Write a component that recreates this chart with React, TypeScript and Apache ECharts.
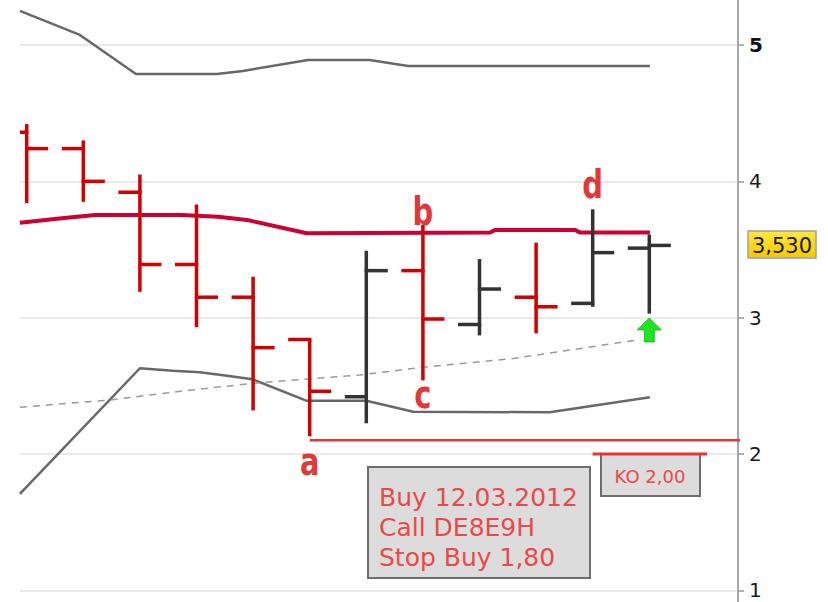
import React, { useEffect, useRef } from "react";
import * as echarts from "echarts";

// ---- OHLC bars (weekly) ----
const barIdx = [0, 1, 2, 3, 4, 5, 6, 7, 8, 9, 10, 11];
const opens = [4.36, 4.24, 3.92, 3.39, 3.15, 2.84, 2.42, 3.345, 2.95, 3.15, 3.105, 3.51];
const closes = [4.24, 4.0, 3.39, 3.15, 2.78, 2.46, 3.345, 2.99, 3.21, 3.08, 3.477, 3.53];
const lows = [3.84, 3.85, 3.19, 2.93, 2.32, 2.13, 2.225, 2.54, 2.87, 2.885, 3.08, 3.03];
const highs = [4.42, 4.3, 4.05, 3.83, 3.3, 2.84, 3.49, 3.68, 3.43, 3.55, 3.795, 3.61];

// ---- indicator lines ----
const upperX = [-0.12, 0.94, 1.93, 3.36, 3.82, 4.97, 6.06, 6.74, 11.01];
const upperY = [5.25, 5.074, 4.788, 4.788, 4.81, 4.89, 4.89, 4.846, 4.846];

const maX = [-0.12, 0.62, 1.21, 2.74, 3.38, 3.89, 4.95, 8.19, 8.27, 9.69, 9.78, 11.01];
const maY = [3.697, 3.729, 3.753, 3.753, 3.741, 3.717, 3.619, 3.624, 3.643, 3.643, 3.624, 3.624];

const lowerX = [-0.12, 2.0, 2.58, 3.06, 3.54, 3.99, 4.95, 6.0, 6.83, 9.24, 11.01];
const lowerY = [1.707, 2.629, 2.611, 2.6, 2.574, 2.548, 2.39, 2.39, 2.31, 2.306, 2.416];

const trendX = [-0.12, 1.47, 2.65, 4.0, 5.89, 7.0, 8.59, 10.78];
const trendY = [2.343, 2.396, 2.457, 2.519, 2.58, 2.636, 2.7, 2.836];

const stopLineX = [5, 12.7];
const stopLineY = [2.1, 2.1];
const koLineX = [10.0, 12.02];
const koLineY = [2.0, 2.0];

// ---- annotations ----
const markLetters = ["a", "b", "c", "d"];
const markX = [5, 7, 7, 10];
const markY = [1.945, 3.78, 2.437, 3.977];
const signalX = [11];
const signalY = [2.91];

const yTicks = [0, 1, 2, 3, 4, 5, 6];
const yLabelled = [1, 2, 3, 4, 5];
const lastPriceLabel = "3,530";
const koLabel = "KO 2,00";
const buyText = ["Buy 12.03.2012", "Call DE8E9H", "Stop Buy 1,80"];

const RED = "#d20000";
const DARK = "#333333";
const FONT = "DejaVu Sans";

function lineSeries(xs: number[], ys: number[], color: string, width: number, type: any, z: number) {
  return {
    type: "line",
    data: xs.map((x, i) => [x, ys[i]]),
    showSymbol: false,
    symbol: "none",
    lineStyle: { color, width, type },
    clip: true,
    z,
    silent: true,
  };
}

export default function App() {
  const ref = useRef<HTMLDivElement>(null);

  useEffect(() => {
    const chart = echarts.init(ref.current!, null, { renderer: "svg" });
    const option: any = {
      animation: false,
      textStyle: { fontFamily: FONT },
      grid: {
        left: 20,
        right: 90,
        top: -91.33,
        bottom: -124.67,
        containLabel: false,
        outerBoundsMode: "none",
      },
      xAxis: {
        type: "value",
        min: -0.1184,
        max: 12.567,
        show: false,
        splitLine: { show: false },
      },
      yAxis: {
        type: "value",
        position: "right",
        min: yTicks[0],
        max: yTicks[yTicks.length - 1],
        interval: 1,
        splitLine: { show: true, lineStyle: { color: "#e2e2e2", width: 1.5 } },
        axisLine: { show: true, onZero: false, lineStyle: { color: "#a8a8a8", width: 2 } },
        axisTick: { show: true, length: 6, lineStyle: { color: "#999", width: 1.5 } },
        axisLabel: {
          margin: 11,
          color: "#1a1a1a",
          fontSize: 20,
          fontFamily: FONT,
          showMinLabel: false,
          showMaxLabel: false,
          formatter: (v: number) =>
            yLabelled.indexOf(v) < 0 ? "" : v === 5 ? "{b|5}" : String(v),
          rich: { b: { fontWeight: "bold", fontSize: 20, color: "#111", fontFamily: FONT } },
        },
      },
      graphic: [
        {
          type: "rect",
          z: 1,
          shape: { x: 368, y: 467, width: 222, height: 111 },
          style: { fill: "#dcdcdc", stroke: "#6e6e6e", lineWidth: 2 },
        },
        {
          type: "text",
          z: 1,
          x: 379,
          y: 482,
          style: {
            text: buyText.join("\n"),
            fill: "#e84a4a",
            font: `25px '${FONT}'`,
            lineHeight: 30,
            align: "left",
            verticalAlign: "top",
          },
        },
        {
          type: "rect",
          z: 1,
          shape: { x: 601, y: 454, width: 99, height: 42 },
          style: { fill: "#dcdcdc", stroke: "#6e6e6e", lineWidth: 2 },
        },
        {
          type: "text",
          z: 1,
          x: 650,
          y: 476,
          style: {
            text: koLabel,
            fill: "#e84a4a",
            font: `18px '${FONT}'`,
            align: "center",
            verticalAlign: "middle",
          },
        },
        {
          type: "rect",
          z: 5,
          shape: { x: 748, y: 231, width: 68, height: 27 },
          style: {
            fill: new echarts.graphic.LinearGradient(0, 0, 0, 1, [
              { offset: 0, color: "#ffe83a" },
              { offset: 1, color: "#f6c800" },
            ]),
            stroke: "#a0a0a0",
            lineWidth: 1.5,
          },
        },
        {
          type: "text",
          z: 6,
          x: 782,
          y: 245.5,
          style: {
            text: lastPriceLabel,
            fill: "#1a1a1a",
            font: `21px '${FONT}'`,
            align: "center",
            verticalAlign: "middle",
          },
        },
      ],
      series: [
        lineSeries(upperX, upperY, "#686868", 2.5, "solid", 2),
        lineSeries(lowerX, lowerY, "#686868", 2.5, "solid", 2),
        lineSeries(trendX, trendY, "#9a9a9a", 1.5, [7, 6], 2),
        lineSeries(maX, maY, "#cc0033", 4, "solid", 2),
        lineSeries(stopLineX, stopLineY, "#e83434", 2.5, "solid", 2),
        lineSeries(koLineX, koLineY, "#e83434", 3, "solid", 4),
        {
          type: "custom",
          clip: true,
          z: 3,
          silent: true,
          encode: { x: 0, y: [1, 2, 3, 4] },
          data: barIdx.map((i) => [i, opens[i], closes[i], lows[i], highs[i]]),
          renderItem: (params: any, api: any) => {
            const x = api.value(0);
            const o = api.value(1);
            const c = api.value(2);
            const l = api.value(3);
            const h = api.value(4);
            const pH = api.coord([x, h]);
            const pL = api.coord([x, l]);
            const pO = api.coord([x, o]);
            const pC = api.coord([x, c]);
            const tick = api.size([0.38, 0])[0];
            const color = c < o ? RED : DARK;
            const style = { stroke: color, lineWidth: 3.5, lineCap: "butt" };
            return {
              type: "group",
              children: [
                { type: "line", shape: { x1: pH[0], y1: pH[1], x2: pL[0], y2: pL[1] }, style },
                { type: "line", shape: { x1: pO[0] - tick, y1: pO[1], x2: pO[0] + 1.7, y2: pO[1] }, style },
                { type: "line", shape: { x1: pC[0] - 1.7, y1: pC[1], x2: pC[0] + tick, y2: pC[1] }, style },
              ],
            };
          },
        },
        {
          type: "custom",
          clip: false,
          z: 6,
          silent: true,
          encode: { x: 0, y: 1 },
          data: markX.map((x, i) => [x, markY[i]]),
          renderItem: (params: any, api: any) => {
            const p = api.coord([api.value(0), api.value(1)]);
            return {
              type: "text",
              x: p[0],
              y: p[1],
              scaleY: 1.35,
              style: {
                text: markLetters[params.dataIndex],
                fill: "#e2383a",
                font: `bold 29px '${FONT}'`,
                align: "center",
                verticalAlign: "middle",
              },
            };
          },
        },
        {
          type: "scatter",
          z: 5,
          silent: true,
          data: signalX.map((x, i) => [x, signalY[i]]),
          symbol: "path://M12,0L24,12L17,12L17,24L7,24L7,12L0,12Z",
          symbolSize: [24, 24],
          itemStyle: { color: "#1ee61e", borderColor: "#17a817", borderWidth: 0.8, opacity: 1 },
        },
      ],
    };
    chart.setOption(option);
    return () => chart.dispose();
  }, []);

  return (
    <div
      ref={ref}
      style={{ position: "fixed", left: 0, top: 0, width: 828, height: 602, background: "#fff" }}
    />
  );
}
